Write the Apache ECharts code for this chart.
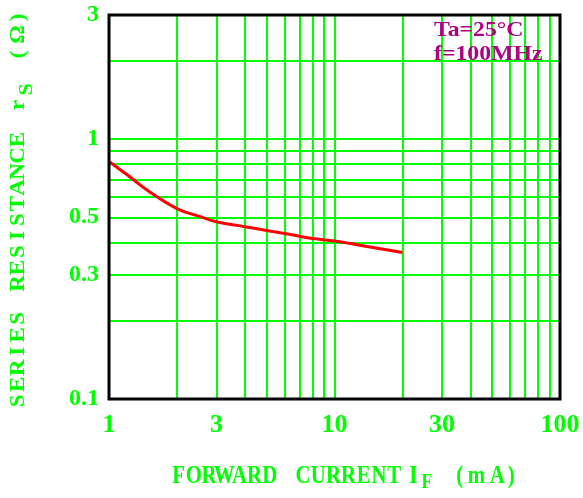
<!DOCTYPE html>
<html>
<head>
<meta charset="utf-8">
<script src="https://cdn.jsdelivr.net/npm/echarts@6/dist/echarts.min.js"></script>
<style>
html,body{margin:0;padding:0;background:#fff;}
#chart{width:583px;height:498px;}
</style>
</head>
<body>
<div id="chart"></div>
<script>
// ---- data ----
const currentMA = [1, 1.2, 1.5, 2, 2.5, 3, 4, 5, 6, 7, 8, 10, 15, 20];
const resistanceOhm = [0.82, 0.73, 0.63, 0.54, 0.505, 0.48, 0.46, 0.445, 0.433, 0.423, 0.414, 0.405, 0.382, 0.366];

const xTickLabels = [1, 3, 10, 30, 100];
const yTickLabels = [0.1, 0.3, 0.5, 1, 3];
const xGridValues = [1, 2, 3, 4, 5, 6, 7, 8, 9, 10, 20, 30, 40, 50, 60, 70, 80, 90, 100];
const yGridValues = [0.1, 0.2, 0.3, 0.4, 0.5, 0.6, 0.7, 0.8, 0.9, 1, 2, 3];

const xTitle = 'FORWARD CURRENT I';
const xTitleSub = 'F';
const xTitleUnit = '(mA)';
const yTitle = 'SERIES RESISTANCE r';
const yTitleSub = 'S';
const yTitleUnit = '(Ω)';
const noteLines = ['Ta=25°C', 'f=100MHz'];

// ---- styling ----
const GREEN = '#00FF00';
const RED = '#FF0000';
const NOTE = '#B0007F';
const SERIF = '"Liberation Serif", "DejaVu Serif", serif';

function buildRich(tokens, styles, scale) {
  let text = '';
  const rich = {};
  tokens.forEach(function (t, i) {
    const name = t[1] + i;
    rich[name] = Object.assign({}, styles[t[1]], { width: t[2] / scale, align: 'center' });
    text += '{' + name + '|' + t[0] + '}';
  });
  return { text: text, rich: rich };
}
function charTokens(str, key, w) {
  return str.split('').map(function (c) { return [c, key, w]; });
}

// x title tokens
const xWords = xTitle.split(' ');
const xUnit = xTitleUnit.split('');
const xTok = [].concat(
  charTokens(xWords[0], 'm', 15.2),
  [[' ', 'm', 18]],
  charTokens(xWords[1], 'm', 15.2),
  [[' ', 'm', 5], [xWords[2], 'm', 13], [xTitleSub, 's', 14], [' ', 'm', 21]],
  [[xUnit[0], 'm', 10], [xUnit[1], 'm', 23], [xUnit[2], 'm', 19], [xUnit[3], 'm', 9]]
);
const xStyles = {
  m: { fontFamily: SERIF, fontWeight: 'bold', fontSize: 26, fill: GREEN, lineHeight: 28, verticalAlign: 'middle' },
  s: { fontFamily: SERIF, fontWeight: 'bold', fontSize: 22, fill: GREEN, lineHeight: 35, verticalAlign: 'bottom' }
};
const xScale = 0.8;
const xRich = buildRich(xTok, xStyles, xScale);

// y title tokens
const yWords = yTitle.split(' ');
const yUnit = yTitleUnit.split('');
const yTok = [].concat(
  charTokens(yWords[0], 'm', 16.5),
  [[' ', 'm', 18.5]],
  charTokens(yWords[1], 'm', 16),
  [[' ', 'm', 18], [yWords[2], 'm', 17], [yTitleSub, 's', 14], [' ', 'm', 18]],
  [[yUnit[0], 'm', 20], [yUnit[1], 'm', 20], [yUnit[2], 'm', 14]]
);
const yStyles = {
  m: { fontFamily: SERIF, fontWeight: 'bold', fontSize: 20, fill: GREEN, lineHeight: 22, verticalAlign: 'middle' },
  s: { fontFamily: SERIF, fontWeight: 'bold', fontSize: 19, fill: GREEN, lineHeight: 36, verticalAlign: 'bottom' }
};
const yScale = 1.15;
const yRich = buildRich(yTok, yStyles, yScale);

const chart = echarts.init(document.getElementById('chart'), null, { renderer: 'canvas' });

const fmt = function (v) { return String(+Number(v).toPrecision(3)); };

chart.setOption({
  backgroundColor: '#ffffff',
  animation: false,
  grid: { left: 109, right: 23, top: 15, bottom: 99, show: true, borderColor: '#000', borderWidth: 3, z: 5 },
  xAxis: {
    type: 'log', logBase: 10, min: 1, max: 100,
    axisLine: { show: false },
    axisTick: { show: false, customValues: xGridValues },
    splitLine: { show: true, lineStyle: { color: GREEN, width: 2 } },
    minorTick: { show: false }, minorSplitLine: { show: false },
    axisLabel: {
      customValues: xTickLabels, formatter: fmt, margin: 13,
      fontFamily: SERIF, fontWeight: 'bold', fontSize: 26, color: GREEN
    }
  },
  yAxis: {
    type: 'log', logBase: 10, min: 0.1, max: 3,
    axisLine: { show: false },
    axisTick: { show: false, customValues: yGridValues },
    splitLine: { show: true, lineStyle: { color: GREEN, width: 2 } },
    minorTick: { show: false }, minorSplitLine: { show: false },
    axisLabel: {
      customValues: yTickLabels, formatter: fmt, margin: 10,
      fontFamily: SERIF, fontWeight: 'bold', fontSize: 24, color: GREEN
    }
  },
  series: [{
    type: 'line',
    data: currentMA.map(function (x, i) { return [x, resistanceOhm[i]]; }),
    smooth: 0.4,
    showSymbol: false,
    lineStyle: { color: RED, width: 3 },
    z: 4
  }],
  graphic: [
    {
      type: 'text', x: 171, y: 476, scaleX: xScale, silent: true,
      style: { text: xRich.text, rich: xRich.rich, align: 'left', verticalAlign: 'middle' }
    },
    {
      type: 'text', x: 19, y: 409, rotation: Math.PI / 2, scaleX: yScale, silent: true,
      style: { text: yRich.text, rich: yRich.rich, align: 'left', verticalAlign: 'middle' }
    },
    {
      type: 'text', x: 434, y: 18, scaleX: 1.08, silent: true, z: 10,
      style: { text: noteLines.join('\n'), fontFamily: SERIF, fontWeight: 'bold', fontSize: 22, lineHeight: 24, fill: NOTE, align: 'left', verticalAlign: 'top' }
    }
  ]
});
</script>
</body>
</html>
